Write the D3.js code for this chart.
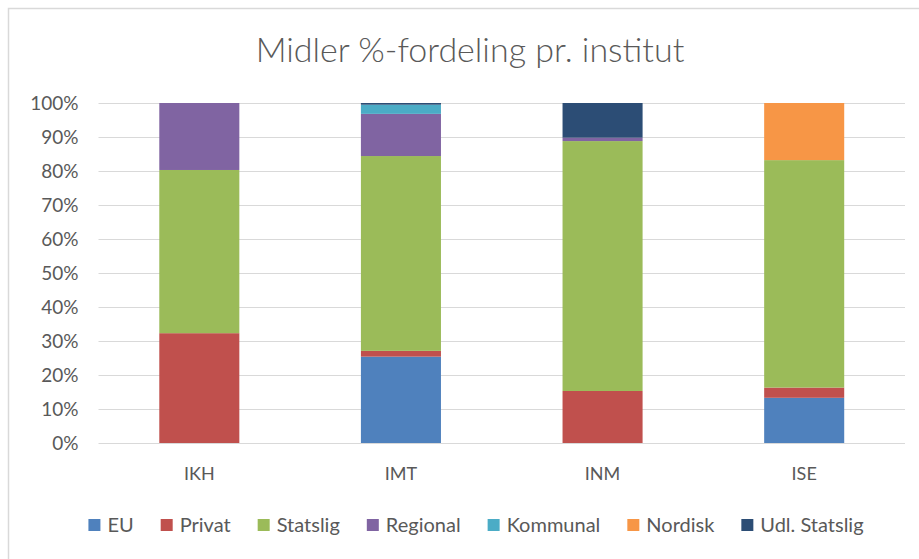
<!DOCTYPE html>
<html lang="da">
<head>
<meta charset="UTF-8">
<title>Midler %-fordeling pr. institut</title>
<script src="https://d3js.org/d3.v7.min.js"></script>
<style>
    body { margin: 0; padding: 0; background: #fff; font-family: Lato, "Noto Sans", sans-serif; }
    #chart svg { display: block; }
</style>
</head>
<body>
<div id="chart"></div>
<script>
// data (percent of each institute's funds)
const institutes = ["IKH", "IMT", "INM", "ISE"];
const sources = ["EU", "Privat", "Statslig", "Regional", "Kommunal", "Nordisk", "Udl. Statslig"];
const colors = ["#4f81bd", "#c0504d", "#9bbb59", "#8064a2", "#4bacc6", "#f79646", "#2c4d75"];
const EU          = [0,    25.4, 0,    13.3];
const Privat      = [32.3, 1.7,  15.3, 3.0];
const Statslig    = [48.0, 57.3, 73.5, 66.9];
const Regional    = [19.7, 12.4, 1.0,  0];
const Kommunal    = [0,    2.7,  0,    0];
const Nordisk     = [0,    0,    0,    16.8];
const UdlStatslig = [0,    0.5,  10.2, 0];
const yTicks = [0, 10, 20, 30, 40, 50, 60, 70, 80, 90, 100];

const series = [EU, Privat, Statslig, Regional, Kommunal, Nordisk, UdlStatslig];
const rows = institutes.map((name, i) => {
    const r = { name: name };
    sources.forEach((s, k) => { r[s] = series[k][i]; });
    return r;
});

const W = 919, H = 559;
const margin = { top: 103, right: 14, bottom: 116, left: 98.5 };
const pw = W - margin.left - margin.right, ph = H - margin.top - margin.bottom;

const svg = d3.select("#chart").append("svg")
    .attr("width", W).attr("height", H);

// outer frame
svg.append("rect")
    .attr("x", 8.5).attr("y", 8.5)
    .attr("width", W + 10).attr("height", H + 10)
    .attr("fill", "none").attr("stroke", "#d9d9d9").attr("stroke-width", 1.5);

svg.append("text")
    .attr("x", 470).attr("y", 62)
    .attr("text-anchor", "middle")
    .attr("fill", "#595959")
    .style("font-size", "34px").style("font-weight", 300)
    .text("Midler %-fordeling pr. institut");

const g = svg.append("g").attr("transform", `translate(${margin.left},${margin.top})`);

const x = d3.scaleBand().domain(institutes).range([0, pw])
    .paddingInner(0.603).paddingOuter(0.3015);
const y = d3.scaleLinear().domain([0, 100]).range([ph, 0]);

// gridlines
g.selectAll(".grid").data(yTicks).enter().append("line")
    .attr("x1", 0).attr("x2", pw)
    .attr("y1", d => y(d) + 0.5).attr("y2", d => y(d) + 0.5)
    .attr("stroke", "#d9d9d9").attr("stroke-width", 1);

// y labels
g.selectAll(".ylab").data(yTicks).enter().append("text")
    .attr("x", -20).attr("y", d => y(d))
    .attr("dy", "0.36em")
    .attr("text-anchor", "end")
    .attr("fill", "#595959")
    .style("font-size", "19px")
    .text(d => d + "%");

// x labels
g.selectAll(".xlab").data(institutes).enter().append("text")
    .attr("x", d => x(d) + x.bandwidth() / 2)
    .attr("y", ph + 37)
    .attr("text-anchor", "middle")
    .attr("fill", "#595959")
    .style("font-size", "18px")
    .text(d => d);

const stacked = d3.stack().keys(sources)(rows);

g.selectAll(".layer").data(stacked).enter().append("g")
    .attr("fill", (d, i) => colors[i])
    .selectAll("rect").data(d => d).enter().append("rect")
    .attr("x", d => x(d.data.name))
    .attr("width", x.bandwidth())
    .attr("y", d => y(d[1]))
    .attr("height", d => y(d[0]) - y(d[1]));

// legend, centred under the plot
const legend = svg.append("g");
const items = legend.selectAll("g").data(sources).enter().append("g");
items.append("rect")
    .attr("width", 12).attr("height", 12)
    .attr("y", -6)
    .attr("fill", (d, i) => colors[i]);
items.append("text")
    .attr("x", 19).attr("dy", "0.36em")
    .attr("fill", "#595959")
    .style("font-size", "20px")
    .text(d => d);

let cx = 0;
items.each(function () {
    d3.select(this).attr("transform", `translate(${cx},0)`);
    cx += 19 + this.querySelector("text").getComputedTextLength() + 27;
});
const total = cx - 27;
legend.attr("transform", `translate(${476 - total / 2},525)`);
</script>
</body>
</html>
